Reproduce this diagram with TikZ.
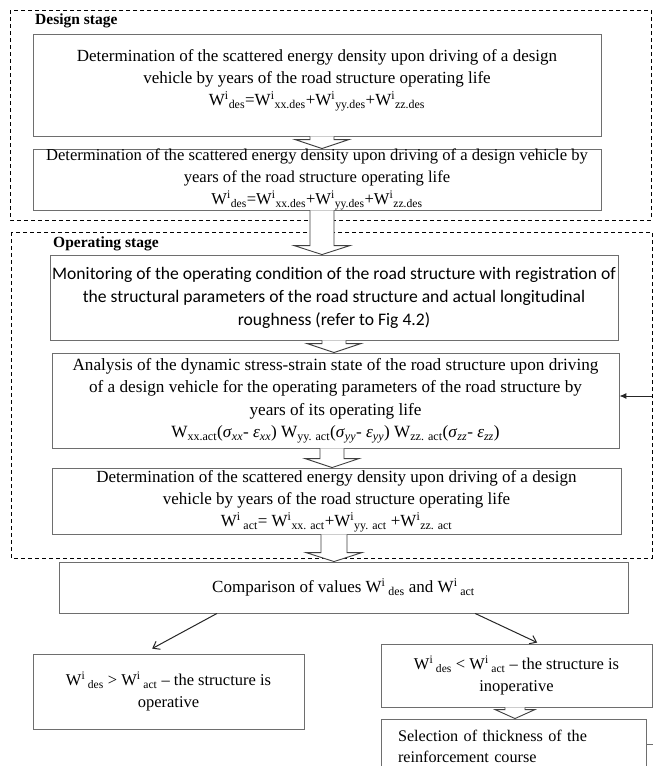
\documentclass[tikz,border=0pt]{standalone}
\usepackage{fontspec}
\setmainfont{Liberation Serif}
\newfontfamily\calib{Carlito}
\usetikzlibrary{arrows.meta,calc}
\definecolor{framegray}{RGB}{110,110,110}
\newcommand{\Wi}[1]{W\textsuperscript{i}\textsubscript{#1}}
\newcommand{\Wis}[1]{W\textsuperscript{i}\,\textsubscript{#1}}
\newcommand{\Wsb}[1]{W\textsubscript{#1}}
\newcommand{\gk}[2]{\textit{#1}\textsubscript{\textit{#2}}}
\newcommand{\fsz}[1]{\fontsize{#1}{22}\selectfont}
\newcommand{\blockarr}[5]{%
  \draw[blk] let \p1=(#2.south), \p2=(#3.north) in
    (#1-#4,\y1) -- (#1-#4,\y2+9pt) -- (#1-#5,\y2+9pt) -- (#1,\y2)
    -- (#1+#5,\y2+9pt) -- (#1+#4,\y2+9pt) -- (#1+#4,\y1);}
\begin{document}
\begin{tikzpicture}[x=1pt,y=1pt,
  boxed/.style={draw=framegray, line width=0.9pt, align=center, inner sep=0pt, font=\fsz{17}},
  frame/.style={draw=black, dashed, line width=0.9pt, dash pattern=on 4pt off 3pt},
  stagelabel/.style={anchor=west, inner sep=0pt, font=\fontsize{15.5}{18}\selectfont\bfseries},
  blk/.style={draw=black!75, fill=white, line width=0.9pt, line join=miter},
  conn/.style={draw=black!85, line width=1pt},
]
\useasboundingbox (0,0) rectangle (653,-766);
\clip (0,0) rectangle (653,-766);
\fill[white] (0,0) rectangle (653,-766);

% stage frames
\draw[frame] (10,-10) rectangle (651,-220);
\draw[frame] (11,-232) rectangle (652,-558);
\node[stagelabel] (dlab) at (35,-21) {Design stage};
\node[stagelabel] (olab) at (53,-244) {Operating stage};

% boxes
\node[boxed, minimum width=568, minimum height=102] (b1) at (317,-85)
  {Determination of the scattered energy density upon driving of a design\\
   vehicle by years of the road structure operating life\\
   \Wi{des}=\Wi{xx.des}+\Wi{yy.des}+\Wi{zz.des}\\[-8pt]\mbox{}};
\node[boxed, minimum width=568, minimum height=61, font=\fsz{16.6}] (b2) at (317,-179.5)
  {Determination of the scattered energy density upon driving of a design vehicle by\\
   years of the road structure operating life\\
   \Wi{des}=\Wi{xx.des}+\Wi{yy.des}+\Wi{zz.des}};
\node[boxed, minimum width=568, minimum height=85, font=\calib\fontsize{17.6}{23}\selectfont] (b3) at (334,-297.5)
  {Monitoring of the operating condition of the road structure with registration of\\
   the structural parameters of the road structure and actual longitudinal\\
   roughness (refer to Fig 4.2)};
\node[boxed, minimum width=567, minimum height=95, font=\fontsize{17.2}{22.5}\selectfont] (b4) at (335.5,-400.5)
  {Analysis of the dynamic stress-strain state of the road structure upon driving\\
   of a design vehicle for the operating parameters of the road structure by\\
   years of its operating life\\
   \Wsb{xx.act}(\gk{σ}{xx}- \gk{ε}{xx}) \Wsb{yy. act}(\gk{σ}{yy}- \gk{ε}{yy}) \Wsb{zz. act}(\gk{σ}{zz}- \gk{ε}{zz})};
\node[boxed, minimum width=569, minimum height=66] (b5) at (336.5,-501)
  {Determination of the scattered energy density upon driving of a design\\
   vehicle by years of the road structure operating life\\
   \Wis{act}= \Wi{xx. act}+\Wi{yy. act} +\Wi{zz. act}};
\node[boxed, minimum width=569, minimum height=51] (cmp) at (343.5,-587.5)
  {Comparison of values \Wis{des} and \Wis{act}};
\node[boxed, minimum width=271, minimum height=75, font=\fsz{16.5}] (lft) at (168.5,-691.5)
  {\Wis{des} > \Wis{act} – the structure is\\ operative};
\node[boxed, minimum width=271, minimum height=63, font=\fsz{16.5}] (rgt) at (516.5,-675.5)
  {\Wis{des} < \Wis{act} – the structure is\\ inoperative};
\node[boxed, text width=231, inner xsep=17pt, align=left, minimum height=55,
      font=\fontsize{16.2}{21}\selectfont] (sel) at (513.5,-746.5)
  {Selection of thickness of the\\ reinforcement course};

% block arrows
\blockarr{322}{b1}{b2}{12}{27}
\blockarr{322}{b2}{b3}{12}{28}
\blockarr{334}{b3}{b4}{12}{27}
\blockarr{332}{b4}{b5}{12}{27}
\blockarr{334}{b5}{cmp}{13}{28}
\blockarr{515}{rgt}{sel}{10}{20}

% feedback arrow
\coordinate (fb) at (652,-396);
\draw[conn, -{Latex[length=7pt,width=6pt]}] (fb) -- (fb -| b4.east);

% diagonal arrows
\draw[conn, -{Straight Barb[length=6pt,width=9pt]}]
  ($(cmp.south west)!0.278!(cmp.south east)$) -- ($(lft.north west)!0.44!(lft.north east)+(0,5)$);
\draw[conn, -{Straight Barb[length=6pt,width=9pt]}]
  ($(cmp.south west)!0.731!(cmp.south east)$) -- ($(rgt.north west)!0.576!(rgt.north east)+(0,1)$);

% stub line at the right of the last box
\coordinate (stub) at (653,-744);
\draw[framegray, line width=0.9pt] (sel.east |- stub) -- (stub);
\end{tikzpicture}
\end{document}
